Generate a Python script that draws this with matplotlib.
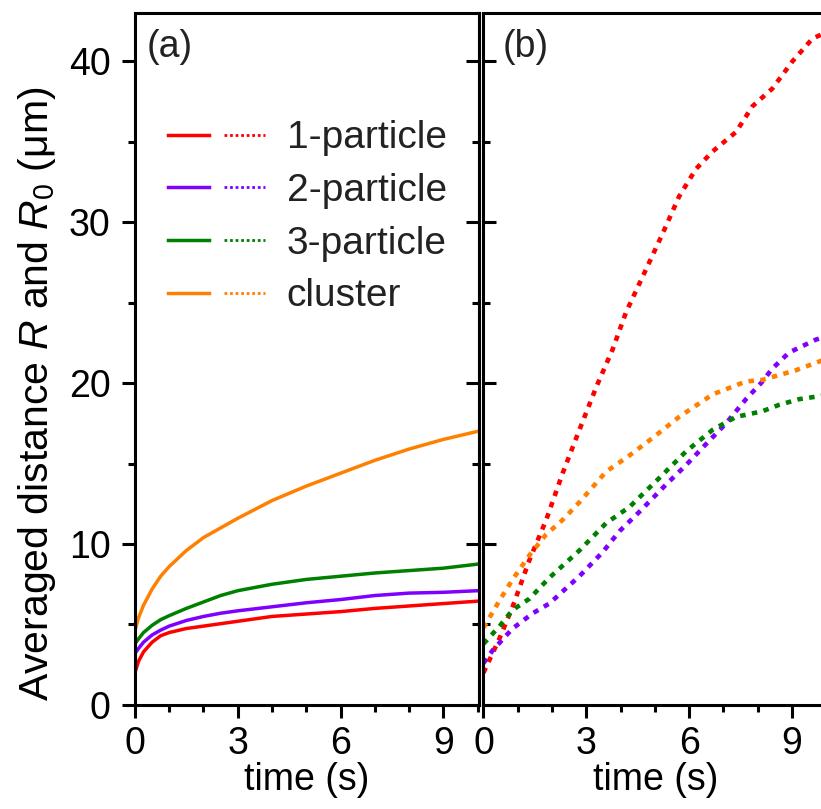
import matplotlib
matplotlib.use('Agg')
import matplotlib.pyplot as plt
from matplotlib.lines import Line2D
from matplotlib.legend_handler import HandlerTuple
from matplotlib.ticker import MultipleLocator

plt.rcParams['font.family'] = ['Liberation Sans', 'DejaVu Sans']
plt.rcParams['mathtext.fontset'] = 'custom'
plt.rcParams['mathtext.rm'] = 'Liberation Sans'
plt.rcParams['mathtext.it'] = 'Liberation Sans:italic'
plt.rcParams['font.size'] = 27

# panel (a): averaged distance R (solid)
t_a = [0, 0.1, 0.25, 0.5, 0.75, 1, 1.5, 2, 2.5, 3, 4, 5, 6, 7, 8, 9, 10]
r_one = [2.0, 2.7, 3.3, 3.9, 4.3, 4.5, 4.75, 4.9, 5.05, 5.2, 5.5, 5.65, 5.8, 6.0, 6.15, 6.3, 6.45]
r_two = [3.2, 3.5, 3.9, 4.35, 4.65, 4.9, 5.25, 5.5, 5.7, 5.85, 6.1, 6.35, 6.55, 6.8, 6.95, 7.0, 7.1]
r_three = [3.8, 4.1, 4.5, 4.95, 5.3, 5.55, 6.0, 6.4, 6.8, 7.1, 7.5, 7.8, 8.0, 8.2, 8.35, 8.5, 8.75]
r_cluster = [4.6, 5.4, 6.2, 7.2, 8.0, 8.6, 9.6, 10.4, 11.0, 11.6, 12.7, 13.6, 14.4, 15.2, 15.9, 16.5, 17.0]

# panel (b): R0 (dotted)
t_one = [0, 0.47, 0.85, 1.34, 1.83, 2.31, 2.8, 3.3, 3.77, 4.16, 4.74, 5.23, 5.71, 6.2, 6.69, 7.37, 7.85, 8.43, 9.02, 9.6, 10.0]
r0_one = [2.0, 4.15, 6.1, 9.0, 11.5, 14.4, 17.1, 19.8, 22.1, 24.4, 27.05, 29.3, 31.6, 33.3, 34.4, 35.6, 37.2, 38.3, 40.0, 41.4, 41.8]
t_two = [0, 0.27, 0.85, 1.44, 1.92, 2.8, 3.48, 3.97, 4.55, 5.33, 5.91, 6.49, 7.08, 7.66, 8.1, 8.43, 8.92, 9.7, 10.0]
r0_two = [2.6, 3.4, 4.75, 5.7, 6.3, 8.0, 9.5, 10.8, 12.0, 13.7, 14.9, 16.2, 17.5, 19.0, 20.0, 20.9, 21.9, 22.7, 22.9]
t_three = [0, 0.47, 0.85, 1.34, 1.92, 2.8, 3.58, 4.26, 5.13, 5.91, 6.69, 7.37, 8.14, 8.63, 9.21, 10.0]
r0_three = [3.8, 4.9, 5.9, 6.6, 7.9, 9.6, 11.3, 12.3, 14.1, 15.75, 17.1, 17.9, 18.25, 18.65, 19.0, 19.25]
t_cluster = [0, 0.47, 0.85, 1.34, 1.83, 2.31, 2.8, 3.58, 4.26, 4.94, 5.71, 6.69, 7.66, 8.14, 9.12, 10.0]
r0_cluster = [4.8, 6.5, 7.8, 9.3, 10.6, 11.5, 12.6, 14.5, 15.5, 16.6, 17.9, 19.3, 20.1, 20.2, 20.8, 21.5]

labels = ['1-particle', '2-particle', '3-particle', 'cluster']
colors = ['#ff0000', '#8000ff', '#008000', '#ff8000']

fig = plt.figure(figsize=(8.21, 8.09), dpi=100)
ax1 = fig.add_axes([0.1644, 0.1286, 0.419, 0.8554])
ax2 = fig.add_axes([0.5889, 0.1286, 0.419, 0.8554])

for y, c in zip([r_one, r_two, r_three, r_cluster], colors):
    ax1.plot(t_a, y, color=c, lw=2.5)

for t, y, c in zip([t_one, t_two, t_three, t_cluster],
                   [r0_one, r0_two, r0_three, r0_cluster], colors):
    ax2.plot(t, y, color=c, lw=3.3, linestyle=(0, (1.2, 1.4)))

for ax in (ax1, ax2):
    ax.set_xlim(0, 10.04)
    ax.set_ylim(0, 43)
    ax.xaxis.set_major_locator(MultipleLocator(3))
    ax.xaxis.set_minor_locator(MultipleLocator(1))
    ax.yaxis.set_major_locator(MultipleLocator(10))
    ax.yaxis.set_minor_locator(MultipleLocator(5))
    for s in ax.spines.values():
        s.set_linewidth(2.2)
    ax.tick_params(which='major', length=9.5, width=2.2)
    ax.tick_params(which='minor', length=5, width=2.2)
    ax.tick_params(axis='x', which='both', direction='out', pad=6)
    ax.set_xlabel('time (s)', labelpad=0)

ax1.tick_params(axis='y', which='both', direction='out', pad=8)
ax2.tick_params(axis='y', which='both', direction='in', labelleft=False)

# inward ticks on right edge of panel (a)
sec = ax1.secondary_yaxis('right')
sec.yaxis.set_major_locator(MultipleLocator(10))
sec.yaxis.set_minor_locator(MultipleLocator(5))
sec.tick_params(which='both', direction='in', width=2.2, labelright=False)
sec.tick_params(which='major', length=9.5)
sec.tick_params(which='minor', length=5)
sec.spines['right'].set_linewidth(2.2)

ax1.set_ylabel(r'Averaged distance $R$ and $R_0$ ($\mathrm{\mu}$m)', fontsize=29.5)
ax1.yaxis.set_label_coords(-0.225, 0.449)

ax1.text(0.034, 0.951, '(a)', transform=ax1.transAxes, va='center', ha='left', color='#222222')
ax2.text(0.055, 0.951, '(b)', transform=ax2.transAxes, va='center', ha='left', color='#222222')

handles = []
for c in colors:
    solid = Line2D([], [], color=c, lw=2.5)
    dots = Line2D([], [], color=c, lw=2.0, linestyle=(0, (1, 1)))
    handles.append((solid, dots))
leg = ax1.legend(handles, labels, handler_map={tuple: HandlerTuple(ndivide=None, pad=0.38)},
                 handlelength=2.5, handletextpad=0.55, loc='upper left',
                 bbox_to_anchor=(0.096, 0.845), borderaxespad=0, borderpad=0,
                 frameon=False, labelspacing=0.43, fontsize=28)
for txt in leg.get_texts():
    txt.set_color('#222222')

plt.savefig('out.png', dpi=100)
